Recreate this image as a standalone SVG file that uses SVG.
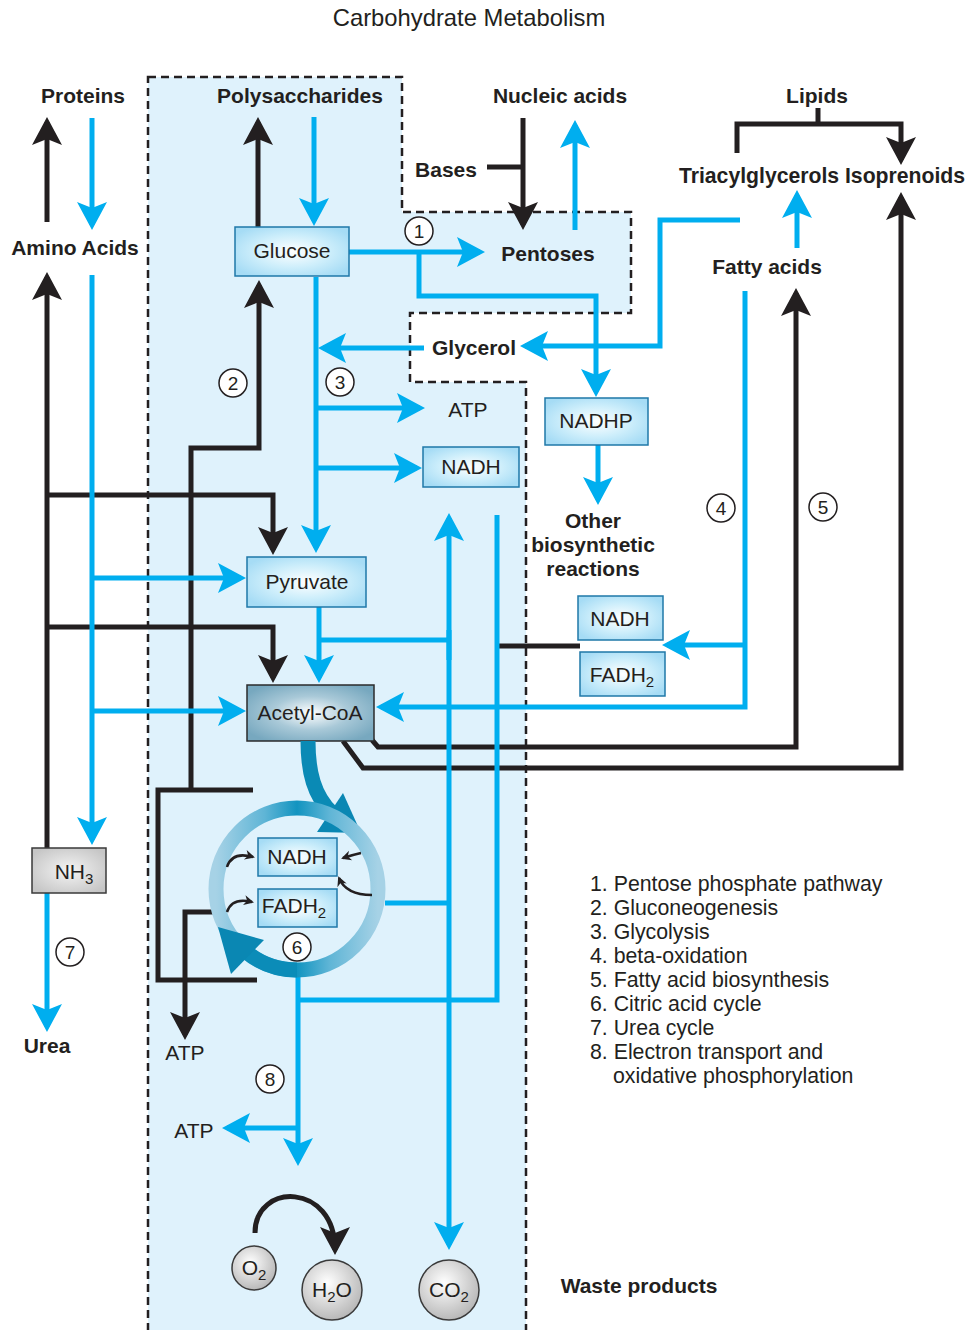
<svg xmlns="http://www.w3.org/2000/svg" width="968" height="1330" viewBox="0 0 968 1330">
<style>
text{font-family:"Liberation Sans",Arial,Helvetica,sans-serif;fill:#231f20}
.b{font-weight:bold;font-size:21px}
.r{font-size:21px}
.c{text-anchor:middle}
.bl{fill:none;stroke:#00aeef;stroke-width:5}
.bk{fill:none;stroke:#231f20;stroke-width:5}
.box{fill:url(#gbox);stroke:#1f78a8;stroke-width:1.5}
.num{fill:#fff;stroke:#231f20;stroke-width:1.5}
.nt{font-size:19px;text-anchor:middle}
.ball{fill:url(#gball);stroke:#3a3a3a;stroke-width:1.5}
.lg{font-size:21.3px}
</style>
<defs>
<radialGradient id="gbox" cx="50%" cy="50%" r="60%"><stop offset="0" stop-color="#ffffff"/><stop offset="0.55" stop-color="#cdeefb"/><stop offset="1" stop-color="#a6dcf5"/></radialGradient>
<radialGradient id="gacet" cx="50%" cy="50%" r="60%"><stop offset="0" stop-color="#ffffff"/><stop offset="0.5" stop-color="#a9c9d8"/><stop offset="1" stop-color="#77a8bf"/></radialGradient>
<radialGradient id="ggrey" cx="50%" cy="50%" r="60%"><stop offset="0" stop-color="#f4f4f4"/><stop offset="1" stop-color="#c6c6c6"/></radialGradient>
<radialGradient id="gball" cx="42%" cy="38%" r="62%"><stop offset="0" stop-color="#ffffff"/><stop offset="1" stop-color="#b9b9b9"/></radialGradient>
<linearGradient id="gring" x1="0" y1="0" x2="1" y2="0"><stop offset="0" stop-color="#a6d2e6"/><stop offset="0.3" stop-color="#5fb5d6"/><stop offset="0.5" stop-color="#1294c0"/><stop offset="0.7" stop-color="#5fb5d6"/><stop offset="1" stop-color="#a6d2e6"/></linearGradient>
<marker id="ab" viewBox="-24 -16 30 32" refX="0" refY="0" markerWidth="30" markerHeight="32" markerUnits="userSpaceOnUse" orient="auto"><path d="M5,0 L-23,-15 L-17,0 L-23,15 Z" fill="#00aeef"/></marker>
<marker id="ak" viewBox="-24 -16 30 32" refX="0" refY="0" markerWidth="30" markerHeight="32" markerUnits="userSpaceOnUse" orient="auto"><path d="M5,0 L-23,-15 L-17,0 L-23,15 Z" fill="#231f20"/></marker>
<marker id="as" viewBox="-9 -6 12 12" refX="0" refY="0" markerWidth="12" markerHeight="12" markerUnits="userSpaceOnUse" orient="auto"><path d="M2,0 L-8,-5 L-5,0 L-8,5 Z" fill="#231f20"/></marker>
</defs>

<g id="background">
<rect width="968" height="1330" fill="#ffffff"/>
<path d="M148 77 H402 V212 H631 V313 H410 V382 H526 V1340 H148 Z" fill="#dff2fc" stroke="#231f20" stroke-width="2.5" stroke-dasharray="8 5"/>
</g>

<g id="title"><text x="469" y="26" class="c" style="font-size:23.8px">Carbohydrate Metabolism</text></g>

<g id="connectors">
<path class="bk" d="M47 222 V122" marker-end="url(#ak)"/>
<path class="bk" d="M47 848 V277" marker-end="url(#ak)"/>
<path class="bk" d="M47 495 H273 V550" marker-end="url(#ak)"/>
<path class="bk" d="M47 627 H273 V678" marker-end="url(#ak)"/>
<path class="bk" d="M258 227 V122" marker-end="url(#ak)"/>
<path class="bk" d="M257 980 H158 V790 H253"/>
<path class="bk" d="M191 790 V448 H259 V285" marker-end="url(#ak)"/>
<path class="bk" d="M213 912 H185 V1035" marker-end="url(#ak)"/>
<path class="bk" d="M523 118 V225" marker-end="url(#ak)"/>
<path class="bk" d="M487 167 H523"/>
<path class="bk" d="M818 108 V124"/>
<path class="bk" d="M737 153 V124 H901 V160" marker-end="url(#ak)"/>
<path class="bk" d="M372 740 L378 747 H796 V293" marker-end="url(#ak)"/>
<path class="bk" d="M343 741 L363 768 H901 V197" marker-end="url(#ak)"/>
<path class="bk" d="M497 646 H580"/>
<path class="bk" d="M255 1233 C255 1182 335 1182 335 1250" marker-end="url(#ak)"/>
<path class="bl" d="M92 118 V225" marker-end="url(#ab)"/>
<path class="bl" d="M92 275 V840" marker-end="url(#ab)"/>
<path class="bl" d="M92 578 H241" marker-end="url(#ab)"/>
<path class="bl" d="M92 711 H241" marker-end="url(#ab)"/>
<path class="bl" d="M47 893 V1027" marker-end="url(#ab)"/>
<path class="bl" d="M314 117 V221" marker-end="url(#ab)"/>
<path class="bl" d="M349 252 H480" marker-end="url(#ab)"/>
<path class="bl" d="M419 252 V296 H596 V392" marker-end="url(#ab)"/>
<path class="bl" d="M575 230 V125" marker-end="url(#ab)"/>
<path class="bl" d="M316 277 V548" marker-end="url(#ab)"/>
<path class="bl" d="M424 348 H323" marker-end="url(#ab)"/>
<path class="bl" d="M740 220 H660 V346 H525" marker-end="url(#ab)"/>
<path class="bl" d="M797 248 V195" marker-end="url(#ab)"/>
<path class="bl" d="M316 408 H420" marker-end="url(#ab)"/>
<path class="bl" d="M316 468 H417" marker-end="url(#ab)"/>
<path class="bl" d="M598 445 V500" marker-end="url(#ab)"/>
<path class="bl" d="M319 607 V678" marker-end="url(#ab)"/>
<path class="bl" d="M319 640 H449"/>
<path class="bl" d="M449 660 V518" marker-end="url(#ab)"/>
<path class="bl" d="M449 630 V1245" marker-end="url(#ab)"/>
<path class="bl" d="M385 903 H449"/>
<path class="bl" d="M497 515 V1000 H298"/>
<path class="bl" d="M298 975 V1161" marker-end="url(#ab)"/>
<path class="bl" d="M298 1128 H227" marker-end="url(#ab)"/>
<path class="bl" d="M745 291 V707 H381" marker-end="url(#ab)"/>
<path class="bl" d="M745 645 H667" marker-end="url(#ab)"/>
</g>

<g id="labels">
<text x="83" y="103" class="b c">Proteins</text>
<text x="300" y="103" class="b c">Polysaccharides</text>
<text x="560" y="103" class="b c">Nucleic acids</text>
<text x="817" y="103" class="b c">Lipids</text>
<text x="446" y="177" class="b c">Bases</text>
<text x="822" y="183" class="b c" style="font-size:21.2px">Triacylglycerols Isoprenoids</text>
<text x="75" y="255" class="b c">Amino Acids</text>
<text x="548" y="261" class="b c">Pentoses</text>
<text x="767" y="274" class="b c">Fatty acids</text>
<text x="474" y="355" class="b c">Glycerol</text>
<text x="593" y="528" class="b c">Other</text>
<text x="593" y="552" class="b c">biosynthetic</text>
<text x="593" y="576" class="b c">reactions</text>
<text x="47" y="1053" class="b c">Urea</text>
<text x="639" y="1293" class="b c">Waste products</text>
<text x="468" y="417" class="r c">ATP</text>
<text x="185" y="1060" class="r c">ATP</text>
<text x="194" y="1138" class="r c">ATP</text>
</g>

<g id="legend">
<text x="590" y="891" class="lg">1. Pentose phosphate pathway</text>
<text x="590" y="915" class="lg">2. Gluconeogenesis</text>
<text x="590" y="939" class="lg">3. Glycolysis</text>
<text x="590" y="963" class="lg">4. beta-oxidation</text>
<text x="590" y="987" class="lg">5. Fatty acid biosynthesis</text>
<text x="590" y="1011" class="lg">6. Citric acid cycle</text>
<text x="590" y="1035" class="lg">7. Urea cycle</text>
<text x="590" y="1059" class="lg">8. Electron transport and</text>
<text x="613" y="1083" class="lg">oxidative phosphorylation</text>
</g>

<g id="node-glucose"><rect x="235" y="227" width="114" height="49" class="box"/><text x="292" y="258" class="r c">Glucose</text></g>
<g id="node-nadh-glycolysis"><rect x="423" y="447" width="96" height="40" class="box"/><text x="471" y="474" class="r c">NADH</text></g>
<g id="node-nadhp"><rect x="545" y="398" width="103" height="47" class="box"/><text x="596" y="428" class="r c">NADHP</text></g>
<g id="node-pyruvate"><rect x="247" y="557" width="119" height="50" class="box"/><text x="307" y="589" class="r c">Pyruvate</text></g>
<g id="node-acetylcoa"><rect x="247" y="685" width="127" height="56" fill="url(#gacet)" stroke="#2b2b2b" stroke-width="1.5"/><text x="310" y="720" class="r c">Acetyl-CoA</text></g>
<g id="node-nadh-beta"><rect x="578" y="596" width="85" height="44" class="box"/><text x="620" y="626" class="r c">NADH</text></g>
<g id="node-fadh2-beta"><rect x="580" y="652" width="85" height="44" class="box"/><text x="622" y="682" class="r c">FADH<tspan style="font-size:15px" dy="5">2</tspan></text></g>
<g id="node-nh3"><rect x="32" y="848" width="74" height="45" fill="url(#ggrey)" stroke="#3a3a3a" stroke-width="1.5"/><text x="74" y="879" class="r c">NH<tspan style="font-size:15px" dy="5">3</tspan></text></g>

<g id="node-citric-cycle">
<path d="M308 741 C308 772 314 796 332 813" fill="none" stroke="#0a8ab5" stroke-width="15"/>
<polygon points="343,793 317,832 361,833" fill="#0a87b3"/>
<circle cx="297" cy="889" r="81" fill="none" stroke="url(#gring)" stroke-width="15"/>
<path d="M297 970 A81 81 0 0 1 245 951" fill="none" stroke="#0b8cb8" stroke-width="15"/>
<polygon points="218,927 264,940 231,974" fill="#0a87b3"/>
<path d="M227 867 Q232 851 253 857" fill="none" stroke="#231f20" stroke-width="2.5" marker-end="url(#as)"/>
<path d="M227 912 Q232 897 252 902" fill="none" stroke="#231f20" stroke-width="2.5" marker-end="url(#as)"/>
<path d="M361 853 Q352 855 343 858" fill="none" stroke="#231f20" stroke-width="2.5" marker-end="url(#as)"/>
<path d="M372 895 Q346 895 339 878" fill="none" stroke="#231f20" stroke-width="2.5" marker-end="url(#as)"/>
<rect x="258" y="838" width="79" height="38" class="box"/><text x="297" y="864" class="r c">NADH</text>
<rect x="258" y="889" width="79" height="38" class="box"/><text x="294" y="913" class="r c">FADH<tspan style="font-size:15px" dy="5">2</tspan></text>
</g>

<g id="node-o2"><circle cx="254" cy="1268" r="22" class="ball"/><text x="254" y="1275" class="r c">O<tspan style="font-size:15px" dy="5">2</tspan></text></g>
<g id="node-h2o"><circle cx="332" cy="1290" r="30" class="ball"/><text x="332" y="1297" class="r c">H<tspan style="font-size:15px" dy="5">2</tspan><tspan dy="-5">O</tspan></text></g>
<g id="node-co2"><circle cx="449" cy="1290" r="30" class="ball"/><text x="449" y="1297" class="r c">CO<tspan style="font-size:15px" dy="5">2</tspan></text></g>

<g id="step-numbers">
<circle cx="419" cy="231" r="14" class="num"/><text x="419" y="238" class="nt">1</text>
<circle cx="233" cy="383" r="14" class="num"/><text x="233" y="390" class="nt">2</text>
<circle cx="340" cy="382" r="14" class="num"/><text x="340" y="389" class="nt">3</text>
<circle cx="721" cy="508" r="14" class="num"/><text x="721" y="515" class="nt">4</text>
<circle cx="823" cy="507" r="14" class="num"/><text x="823" y="514" class="nt">5</text>
<circle cx="297" cy="947" r="14" class="num"/><text x="297" y="954" class="nt">6</text>
<circle cx="70" cy="952" r="14" class="num"/><text x="70" y="959" class="nt">7</text>
<circle cx="270" cy="1079" r="14" class="num"/><text x="270" y="1086" class="nt">8</text>
</g>
</svg>
